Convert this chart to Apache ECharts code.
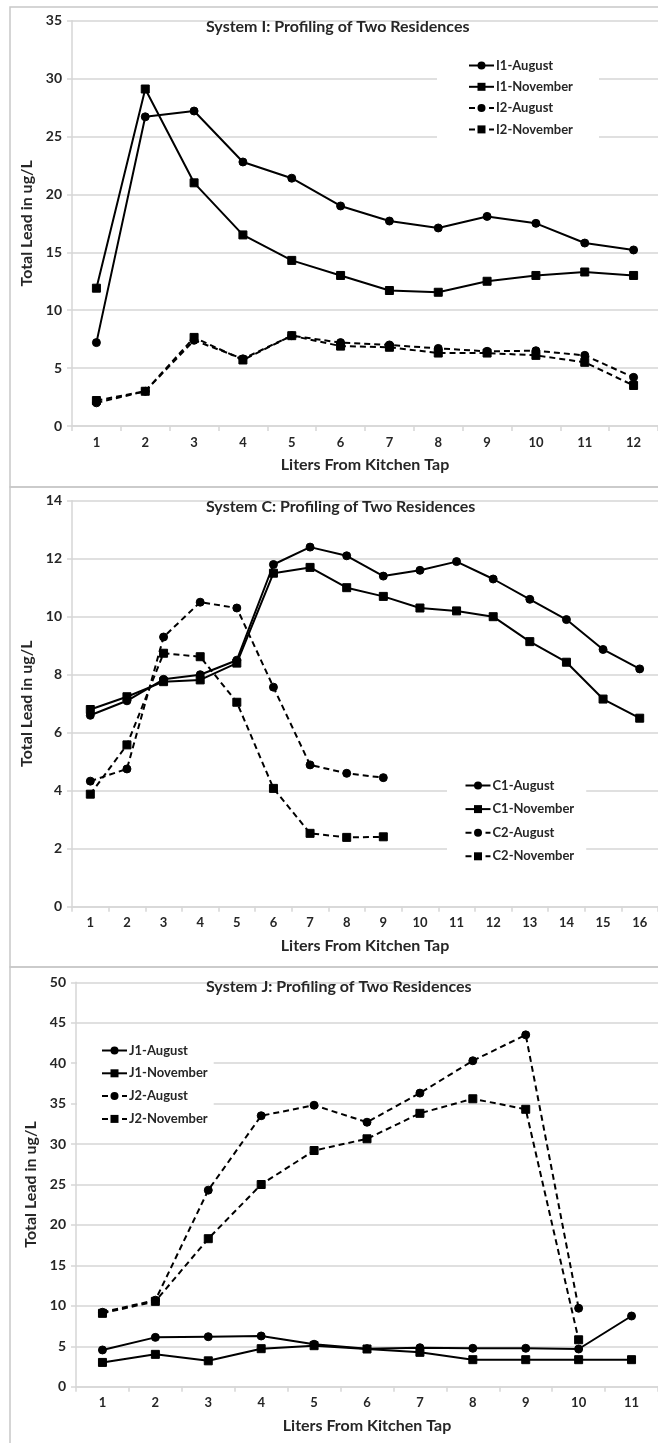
<!DOCTYPE html>
<html>
<head>
<meta charset="utf-8">
<script src="https://cdn.jsdelivr.net/npm/echarts@6/dist/echarts.min.js"></script>
<style>
  html, body { margin: 0; padding: 0; background: #fff; }
  #chart { width: 658px; height: 1443px; }
</style>
</head>
<body>
<div id="chart"></div>
<script>
// System I
const litersI = ['1','2','3','4','5','6','7','8','9','10','11','12'];
const i1August   = [7.2, 26.7, 27.2, 22.8, 21.4, 19.0, 17.7, 17.1, 18.1, 17.5, 15.8, 15.2];
const i1November = [11.9, 29.1, 21.0, 16.5, 14.3, 13.0, 11.7, 11.55, 12.5, 13.0, 13.3, 13.0];
const i2August   = [2.0, 3.0, 7.4, 5.8, 7.8, 7.2, 7.0, 6.7, 6.45, 6.5, 6.1, 4.2];
const i2November = [2.2, 3.0, 7.65, 5.7, 7.8, 6.9, 6.8, 6.3, 6.3, 6.1, 5.5, 3.5];

// System C
const litersC = ['1','2','3','4','5','6','7','8','9','10','11','12','13','14','15','16'];
const c1August   = [6.6, 7.1, 7.84, 8.0, 8.5, 11.8, 12.4, 12.1, 11.4, 11.6, 11.9, 11.3, 10.6, 9.9, 8.87, 8.2];
const c1November = [6.8, 7.24, 7.76, 7.82, 8.4, 11.5, 11.7, 11.0, 10.7, 10.3, 10.2, 10.0, 9.14, 8.43, 7.16, 6.5];
const c2August   = [4.33, 4.75, 9.3, 10.5, 10.3, 7.57, 4.89, 4.6, 4.45];
const c2November = [3.88, 5.58, 8.74, 8.62, 7.05, 4.08, 2.53, 2.39, 2.41];

// System J
const litersJ = ['1','2','3','4','5','6','7','8','9','10','11'];
const j1August   = [4.54, 6.1, 6.18, 6.27, 5.25, 4.7, 4.82, 4.75, 4.75, 4.66, 8.74];
const j1November = [3.0, 4.0, 3.2, 4.7, 5.07, 4.66, 4.25, 3.34, 3.34, 3.34, 3.34];
const j2August   = [9.2, 10.7, 24.3, 33.5, 34.8, 32.7, 36.3, 40.3, 43.5, 9.7];
const j2November = [9.07, 10.55, 18.3, 25.0, 29.2, 30.65, 33.8, 35.6, 34.3, 5.8];

const FONT = 'Lato';
const TEXT = '#262626';
const GRID_LINE = '#d6d6d6';

const chart = echarts.init(document.getElementById('chart'));

function xAxis(idx, cats) {
  return {
    type: 'category', gridIndex: idx, data: cats, boundaryGap: true,
    name: 'Liters From Kitchen Tap', nameLocation: 'middle', nameGap: 31,
    nameTextStyle: { fontFamily: FONT, fontWeight: 'bold', fontSize: 16, color: TEXT },
    axisLine: { lineStyle: { color: GRID_LINE, width: 1.5 } },
    axisTick: { show: true, length: 5, lineStyle: { color: GRID_LINE, width: 1.5 } },
    axisLabel: { fontFamily: FONT, fontWeight: 'bold', fontSize: 13, color: TEXT, margin: 10 },
    splitLine: { show: false }
  };
}

function yAxis(idx, max, interval, gap) {
  return {
    type: 'value', gridIndex: idx, min: 0, max: max, interval: interval,
    name: 'Total Lead in ug/L', nameLocation: 'middle', nameGap: gap,
    nameTextStyle: { fontFamily: FONT, fontWeight: 'bold', fontSize: 16, color: TEXT },
    axisLine: { show: true, lineStyle: { color: GRID_LINE, width: 1.5 } },
    axisTick: { show: true, length: 5, lineStyle: { color: GRID_LINE, width: 1.5 } },
    axisLabel: { fontFamily: FONT, fontWeight: 'bold', fontSize: 14, color: TEXT, margin: 10 },
    splitLine: { lineStyle: { color: GRID_LINE, width: 1.5 } }
  };
}

function line(name, idx, data, symbol, dashed) {
  return {
    name: name, type: 'line', xAxisIndex: idx, yAxisIndex: idx, data: data,
    symbol: symbol, symbolSize: 8, showAllSymbol: true,
    lineStyle: { color: '#000', width: 2, type: dashed ? [6, 4] : 'solid' },
    itemStyle: { color: '#000', borderColor: '#000' },
    emphasis: { disabled: true },
    animation: false, z: 3
  };
}

function legend(names, left, top, padding, gap) {
  return {
    orient: 'vertical', left: left, top: top, data: names,
    padding: padding, itemGap: gap, itemWidth: 25, itemHeight: 10,
    backgroundColor: '#fff',
    textStyle: { fontFamily: FONT, fontWeight: 'bold', fontSize: 13, color: TEXT, padding: [0, 0, 0, -3] },
    selectedMode: false
  };
}

function title(text, top) {
  return {
    text: text, left: 206, top: top, padding: 0,
    textStyle: { fontFamily: FONT, fontWeight: 'bold', fontSize: 16, color: TEXT }
  };
}

const frame = { type: 'rect', silent: true, style: { fill: 'none', stroke: '#c8c8c8', lineWidth: 1.5 } };

const option = {
  backgroundColor: '#fff',
  animation: false,
  graphic: [
    Object.assign({}, frame, { shape: { x: 10, y: 7, width: 700, height: 480 } }),
    Object.assign({}, frame, { shape: { x: 10, y: 487, width: 700, height: 480 } }),
    Object.assign({}, frame, { shape: { x: 10, y: 967, width: 700, height: 500 } })
  ],
  title: [
    title('System I: Profiling of Two Residences', 19),
    title('System C: Profiling of Two Residences', 499),
    title('System J: Profiling of Two Residences', 979)
  ],
  legend: [
    legend(['I1-August', 'I1-November', 'I2-August', 'I2-November'], 437, 50, [9, 26, 6, 31], 8.3),
    legend(['C1-August', 'C1-November', 'C2-August', 'C2-November'], 447, 772, [7, 12, 7, 17.5], 10.6),
    legend(['J1-August', 'J1-November', 'J2-August', 'J2-November'], 77, 1032, [12, 6, 12, 24], 9.8)
  ],
  grid: [
    { left: 72, top: 20.7, width: 587, height: 405.3 },
    { left: 72, top: 500.7, width: 587, height: 406 },
    { left: 76, top: 982.3, width: 582, height: 404.4 }
  ],
  xAxis: [xAxis(0, litersI), xAxis(1, litersC), xAxis(2, litersJ)],
  yAxis: [yAxis(0, 35, 5, 24), yAxis(1, 14, 2, 24), yAxis(2, 50, 5, 28)],
  series: [
    line('I1-August', 0, i1August, 'circle', false),
    line('I1-November', 0, i1November, 'rect', false),
    line('I2-August', 0, i2August, 'circle', true),
    line('I2-November', 0, i2November, 'rect', true),
    line('C1-August', 1, c1August, 'circle', false),
    line('C1-November', 1, c1November, 'rect', false),
    line('C2-August', 1, c2August, 'circle', true),
    line('C2-November', 1, c2November, 'rect', true),
    line('J1-August', 2, j1August, 'circle', false),
    line('J1-November', 2, j1November, 'rect', false),
    line('J2-August', 2, j2August, 'circle', true),
    line('J2-November', 2, j2November, 'rect', true)
  ]
};

chart.setOption(option);
</script>
</body>
</html>
